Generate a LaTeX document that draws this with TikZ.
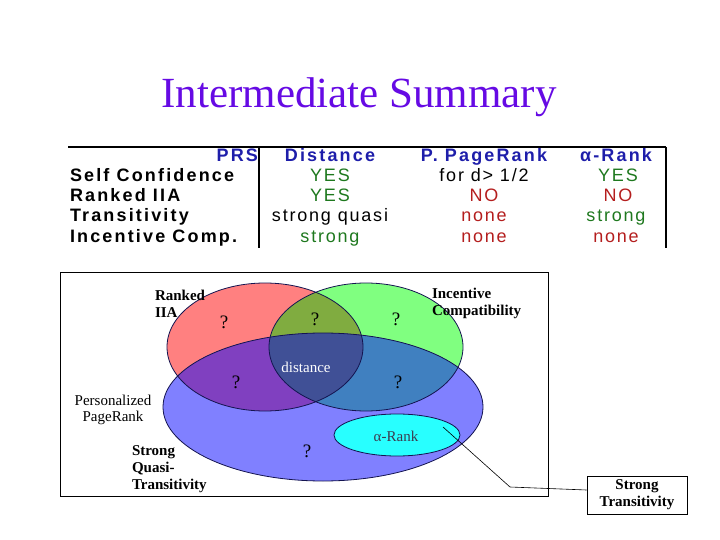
\documentclass[tikz,border=0pt]{standalone}
\usepackage{fontspec}
\setmainfont{Liberation Serif}
\newfontfamily\tabbold{Liberation Sans}[LetterSpace=12,BoldFont={Liberation Sans Bold},UprightFont={Liberation Sans Bold}]
\newfontfamily\tabreg{Liberation Sans}[LetterSpace=10]
\usetikzlibrary{calc}
\definecolor{titlecol}{RGB}{102,10,228}
\definecolor{hdrblue}{RGB}{30,30,170}
\definecolor{okgreen}{RGB}{30,120,30}
\definecolor{nored}{RGB}{180,30,30}
\definecolor{vred}{RGB}{255,128,128}
\definecolor{vgreen}{RGB}{128,255,128}
\definecolor{vblue}{RGB}{128,128,255}
\definecolor{vrg}{RGB}{128,172,64}
\definecolor{vrb}{RGB}{128,64,192}
\definecolor{vgb}{RGB}{64,128,192}
\definecolor{vrgb}{RGB}{64,80,150}
\definecolor{vcyan}{RGB}{40,255,255}
\definecolor{outl}{RGB}{20,20,80}
\definecolor{arank}{RGB}{60,60,80}
\tikzset{
  txt/.style={inner sep=0pt, outer sep=0pt},
  hdr/.style={txt, font=\fontsize{18}{20}\selectfont\tabbold, text=hdrblue},
  rowlab/.style={txt, font=\fontsize{18}{20}\selectfont\tabbold, anchor=base west},
  val/.style={txt, font=\fontsize{18}{20}\selectfont\tabreg, anchor=base},
  vq/.style={txt, font=\fontsize{19}{21}\selectfont, anchor=base},
  vlab/.style={txt, font=\fontsize{15}{17}\selectfont\bfseries, anchor=base west},
  vnorm/.style={txt, font=\fontsize{15}{17}\selectfont, anchor=base},
  tline/.style={line width=1.2pt},
  eout/.style={draw=outl, line width=0.8pt}
}
\begin{document}
\begin{tikzpicture}[x=1pt,y=-1pt]
\useasboundingbox (0,0) rectangle (720,540);
% title
\node[txt, font=\fontsize{43}{48}\selectfont, text=titlecol, anchor=base] (title) at (359,108) {Intermediate Summary};
% table lines
\draw[tline] (68,147) -- (666,147);
\draw[tline] (259,147) -- (259,248);
\draw[tline] (666,147) -- (666,248);
% headers
\node[hdr, anchor=base east] (hprs) at (258,162) {PRS};
\node[hdr, anchor=base] (hdist) at (330,162) {Distance};
\node[hdr, anchor=base] (hppr) at (484,162) {P. PageRank};
\node[hdr, anchor=base] (hrank) at (616,162) {α-Rank};
% row labels
\node[rowlab] (r1) at (70,182) {Self Confidence};
\node[rowlab] (r2) at (70,202) {Ranked IIA};
\node[rowlab] (r3) at (70,222) {Transitivity};
\node[rowlab] (r4) at (70,242) {Incentive Comp.};
% values
\node[val, text=okgreen] (d1) at (330,182) {YES};
\node[val, text=okgreen] (d2) at (330,202) {YES};
\node[val] (d3) at (330,222) {strong quasi};
\node[val, text=okgreen] (d4) at (330,242) {strong};
\node[val] (p1) at (484,182) {for d> 1/2};
\node[val, text=nored] (p2) at (484,202) {NO};
\node[val, text=nored] (p3) at (484,222) {none};
\node[val, text=nored] (p4) at (484,242) {none};
\node[val, text=okgreen] (a1) at (618,182) {YES};
\node[val, text=nored] (a2) at (618,202) {NO};
\node[val, text=okgreen] (a3) at (616,222) {strong};
\node[val, text=nored] (a4) at (616,242) {none};
% Venn frame
\draw[line width=1pt] (60,272) rectangle (548,496);
% Venn fills
\def\ered{(265,347) ellipse [x radius=98, y radius=64]}
\def\egreen{(366,347) ellipse [x radius=97, y radius=64]}
\def\eblue{(323,407) ellipse [x radius=160, y radius=74]}
\fill[vred] \ered;
\fill[vgreen] \egreen;
\begin{scope}\clip \ered; \fill[vrg] \egreen;\end{scope}
\fill[vblue] \eblue;
\begin{scope}\clip \ered; \fill[vrb] \eblue;\end{scope}
\begin{scope}\clip \egreen; \fill[vgb] \eblue;\end{scope}
\begin{scope}\clip \ered; \clip \egreen; \fill[vrgb] \eblue;\end{scope}
\draw[eout] \ered;
\draw[eout] \egreen;
\draw[eout] \eblue;
\filldraw[fill=vcyan, eout] (397,435) ellipse [x radius=63, y radius=21];
% Venn labels
\node[vlab] (lr1) at (155,300) {Ranked};
\node[vlab] (lr2) at (155,317) {IIA};
\node[vlab] (li1) at (432,298) {Incentive};
\node[vlab] (li2) at (432,315) {Compatibility};
\node[vnorm] (lp1) at (113,405) {Personalized};
\node[vnorm] (lp2) at (113,421) {PageRank};
\node[vlab] (ls1) at (132,455) {Strong};
\node[vlab] (ls2) at (132,472) {Quasi-};
\node[vlab] (ls3) at (132,489) {Transitivity};
\node[vq] (q1) at (224,328) {?};
\node[vq] (q2) at (315,325) {?};
\node[vq] (q3) at (396,325) {?};
\node[vq] (q4) at (236,388) {?};
\node[vq] (q5) at (398,388) {?};
\node[vq] (q6) at (307,457) {?};
\node[vnorm, text=white] (ldist) at (306,372) {distance};
\node[vnorm, text=arank] (lrank) at (396,441) {α-Rank};
% callout
\node[draw, line width=0.8pt, fill=white, minimum width=100pt, minimum height=38pt, inner sep=0pt, align=center, font=\fontsize{15}{17}\selectfont\bfseries] (stbox) at (637,495) {Strong\\Transitivity};
\coordinate (cs) at (443,427);
\coordinate (bend) at (510,487);
\draw[line width=0.6pt] (cs) -- (bend) -- ([yshift=5pt]stbox.west);
\end{tikzpicture}
\end{document}
